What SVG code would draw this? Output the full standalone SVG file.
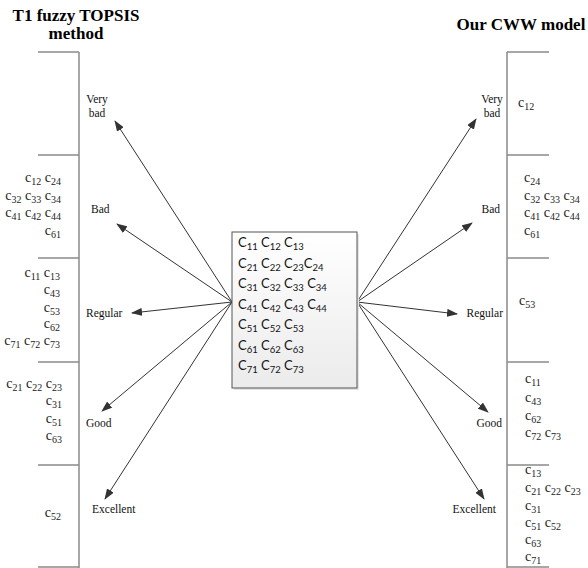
<svg xmlns="http://www.w3.org/2000/svg" width="588" height="568" viewBox="0 0 588 568">
<style>
.title{font-family:"Liberation Serif",serif;font-weight:bold;font-size:17px;fill:#000}
.lab{font-family:"Liberation Serif",serif;font-size:11.5px;fill:#111}
.c{font-family:"Liberation Serif",serif;font-size:14px;fill:#222}
.s{font-size:10px}
.bx{font-family:Lato,"Liberation Sans",sans-serif;font-size:13px;fill:#111}
.bs{font-size:9.5px}
.br{stroke:#8a8a8a;stroke-width:1.5;fill:none}
.ar{stroke:#333;stroke-width:1;fill:none;marker-end:url(#ah)}
</style>
<defs>
<marker id="ah" markerWidth="11" markerHeight="8" refX="10" refY="4" orient="auto" markerUnits="userSpaceOnUse">
<path d="M0,0 L11,4 L0,8 Z" fill="#333"/>
</marker>
<linearGradient id="g" x1="0" y1="0" x2="0" y2="1">
<stop offset="0" stop-color="#ffffff"/>
<stop offset="1" stop-color="#ebebeb"/>
</linearGradient>
</defs>
<rect width="588" height="568" fill="#fff"/>

<g id="titles">
<text class="title" x="76" y="21" text-anchor="middle">T1 fuzzy TOPSIS</text>
<text class="title" x="76" y="39" text-anchor="middle">method</text>
<text class="title" x="521" y="30" text-anchor="middle">Our CWW model</text>
</g>

<g id="left-scale">
<path class="br" d="M79,52 V568 M38,52 H79 M38,155 H79 M38,258 H79 M38,362 H79 M38,465 H79 M38,567 H79"/>
</g>
<g id="right-scale">
<path class="br" d="M507,52 V568 M507,52 H549 M507,155 H549 M507,258 H549 M507,362 H549 M507,465 H549 M507,567 H549"/>
</g>

<g id="left-labels" class="lab">
<text x="97" y="103" text-anchor="middle">Very</text>
<text x="97" y="117" text-anchor="middle">bad</text>
<text x="91" y="213">Bad</text>
<text x="86" y="317">Regular</text>
<text x="86" y="427">Good</text>
<text x="92" y="513">Excellent</text>
</g>
<g id="right-labels" class="lab">
<text x="492" y="103" text-anchor="middle">Very</text>
<text x="492" y="117" text-anchor="middle">bad</text>
<text x="500" y="213" text-anchor="end">Bad</text>
<text x="503" y="317" text-anchor="end">Regular</text>
<text x="502" y="427" text-anchor="end">Good</text>
<text x="496" y="513" text-anchor="end">Excellent</text>
</g>

<g id="left-criteria" class="c" text-anchor="end">
<text x="61" y="182">c<tspan class="s" dy="3">12</tspan><tspan dy="-3"> c</tspan><tspan class="s" dy="3">24</tspan></text>
<text x="61" y="200">c<tspan class="s" dy="3">32</tspan><tspan dy="-3"> c</tspan><tspan class="s" dy="3">33</tspan><tspan dy="-3"> c</tspan><tspan class="s" dy="3">34</tspan></text>
<text x="61" y="217">c<tspan class="s" dy="3">41</tspan><tspan dy="-3"> c</tspan><tspan class="s" dy="3">42</tspan><tspan dy="-3"> c</tspan><tspan class="s" dy="3">44</tspan></text>
<text x="61" y="235">c<tspan class="s" dy="3">61</tspan></text>
<text x="60" y="277">c<tspan class="s" dy="3">11</tspan><tspan dy="-3"> c</tspan><tspan class="s" dy="3">13</tspan></text>
<text x="60" y="294">c<tspan class="s" dy="3">43</tspan></text>
<text x="60" y="312">c<tspan class="s" dy="3">53</tspan></text>
<text x="60" y="328">c<tspan class="s" dy="3">62</tspan></text>
<text x="60" y="345">c<tspan class="s" dy="3">71</tspan><tspan dy="-3"> c</tspan><tspan class="s" dy="3">72</tspan><tspan dy="-3"> c</tspan><tspan class="s" dy="3">73</tspan></text>
<text x="62" y="388">c<tspan class="s" dy="3">21</tspan><tspan dy="-3"> c</tspan><tspan class="s" dy="3">22</tspan><tspan dy="-3"> c</tspan><tspan class="s" dy="3">23</tspan></text>
<text x="62" y="405">c<tspan class="s" dy="3">31</tspan></text>
<text x="62" y="423">c<tspan class="s" dy="3">51</tspan></text>
<text x="62" y="440">c<tspan class="s" dy="3">63</tspan></text>
<text x="61" y="517">c<tspan class="s" dy="3">52</tspan></text>
</g>

<g id="right-criteria" class="c">
<text x="518" y="107">c<tspan class="s" dy="3">12</tspan></text>
<text x="524" y="182">c<tspan class="s" dy="3">24</tspan></text>
<text x="524" y="200">c<tspan class="s" dy="3">32</tspan><tspan dy="-3"> c</tspan><tspan class="s" dy="3">33</tspan><tspan dy="-3"> c</tspan><tspan class="s" dy="3">34</tspan></text>
<text x="524" y="217">c<tspan class="s" dy="3">41</tspan><tspan dy="-3"> c</tspan><tspan class="s" dy="3">42</tspan><tspan dy="-3"> c</tspan><tspan class="s" dy="3">44</tspan></text>
<text x="524" y="235">c<tspan class="s" dy="3">61</tspan></text>
<text x="519" y="305">c<tspan class="s" dy="3">53</tspan></text>
<text x="525" y="383">c<tspan class="s" dy="3">11</tspan></text>
<text x="525" y="402">c<tspan class="s" dy="3">43</tspan></text>
<text x="525" y="420">c<tspan class="s" dy="3">62</tspan></text>
<text x="525" y="437">c<tspan class="s" dy="3">72</tspan><tspan dy="-3"> c</tspan><tspan class="s" dy="3">73</tspan></text>
<text x="525" y="474">c<tspan class="s" dy="3">13</tspan></text>
<text x="525" y="492">c<tspan class="s" dy="3">21</tspan><tspan dy="-3"> c</tspan><tspan class="s" dy="3">22</tspan><tspan dy="-3"> c</tspan><tspan class="s" dy="3">23</tspan></text>
<text x="525" y="510">c<tspan class="s" dy="3">31</tspan></text>
<text x="525" y="527">c<tspan class="s" dy="3">51</tspan><tspan dy="-3"> c</tspan><tspan class="s" dy="3">52</tspan></text>
<text x="525" y="544">c<tspan class="s" dy="3">63</tspan></text>
<text x="525" y="561">c<tspan class="s" dy="3">71</tspan></text>
</g>

<g id="connectors">
<line class="ar" x1="232" y1="302" x2="115" y2="121"/>
<line class="ar" x1="232" y1="302" x2="117" y2="224"/>
<line class="ar" x1="232" y1="302" x2="132" y2="313"/>
<line class="ar" x1="232" y1="302" x2="102" y2="411"/>
<line class="ar" x1="232" y1="302" x2="105" y2="499"/>
<line class="ar" x1="357" y1="302" x2="476" y2="119"/>
<line class="ar" x1="357" y1="302" x2="472" y2="223"/>
<line class="ar" x1="357" y1="302" x2="457" y2="314"/>
<line class="ar" x1="357" y1="302" x2="488" y2="412"/>
<line class="ar" x1="357" y1="302" x2="484" y2="499"/>
</g>

<g id="criteria-box">
<rect x="234" y="234" width="125" height="156" fill="#e4e4e4"/>
<rect x="232" y="232" width="125" height="156" fill="url(#g)" stroke="#555" stroke-width="1"/>
<g class="bx">
<text x="238" y="247">C<tspan class="bs" dy="3">11</tspan><tspan dy="-3"> C</tspan><tspan class="bs" dy="3">12</tspan><tspan dy="-3"> C</tspan><tspan class="bs" dy="3">13</tspan></text>
<text x="238" y="267.5">C<tspan class="bs" dy="3">21</tspan><tspan dy="-3"> C</tspan><tspan class="bs" dy="3">22</tspan><tspan dy="-3"> C</tspan><tspan class="bs" dy="3">23</tspan><tspan dy="-3">C</tspan><tspan class="bs" dy="3">24</tspan></text>
<text x="238" y="288">C<tspan class="bs" dy="3">31</tspan><tspan dy="-3"> C</tspan><tspan class="bs" dy="3">32</tspan><tspan dy="-3"> C</tspan><tspan class="bs" dy="3">33</tspan><tspan dy="-3"> C</tspan><tspan class="bs" dy="3">34</tspan></text>
<text x="238" y="308.5">C<tspan class="bs" dy="3">41</tspan><tspan dy="-3">  C</tspan><tspan class="bs" dy="3">42</tspan><tspan dy="-3"> C</tspan><tspan class="bs" dy="3">43</tspan><tspan dy="-3"> C</tspan><tspan class="bs" dy="3">44</tspan></text>
<text x="238" y="329">C<tspan class="bs" dy="3">51</tspan><tspan dy="-3"> C</tspan><tspan class="bs" dy="3">52</tspan><tspan dy="-3"> C</tspan><tspan class="bs" dy="3">53</tspan></text>
<text x="238" y="349.5">C<tspan class="bs" dy="3">61</tspan><tspan dy="-3"> C</tspan><tspan class="bs" dy="3">62</tspan><tspan dy="-3"> C</tspan><tspan class="bs" dy="3">63</tspan></text>
<text x="238" y="370">C<tspan class="bs" dy="3">71</tspan><tspan dy="-3"> C</tspan><tspan class="bs" dy="3">72</tspan><tspan dy="-3"> C</tspan><tspan class="bs" dy="3">73</tspan></text>
</g>
</g>
</svg>
